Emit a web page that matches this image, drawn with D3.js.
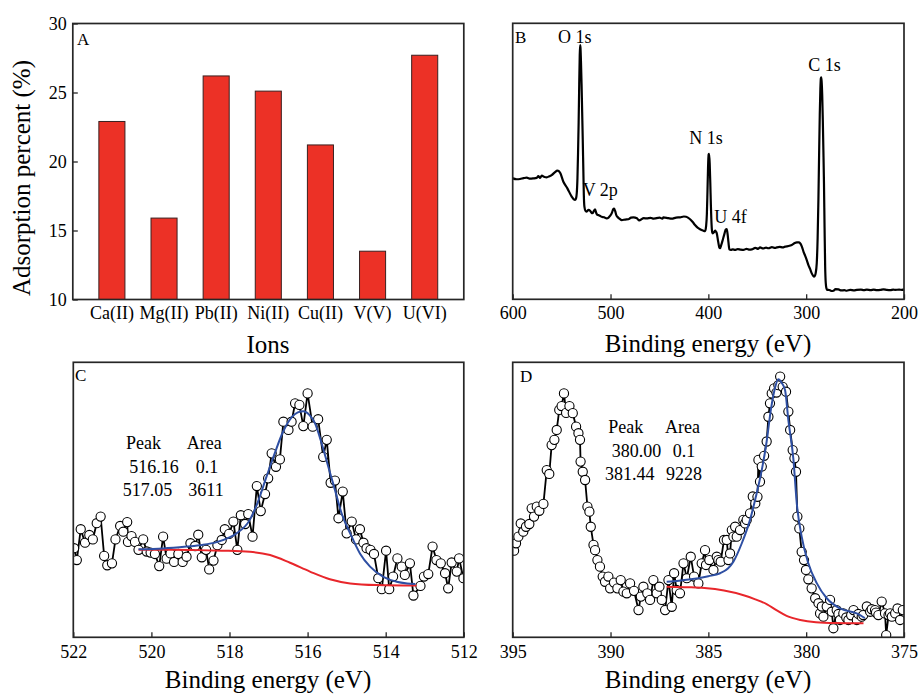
<!DOCTYPE html>
<html>
<head>
<meta charset="utf-8">
<script src="https://cdn.jsdelivr.net/npm/d3@7"></script>
<style>
  body { margin: 0; background: #fff; }
  svg { display: block; }
</style>
</head>
<body>
<svg id="fig" width="919" height="694"></svg>
<script>
// ---- Panel A: adsorption percent per ion ----
const ions = ["Ca(II)", "Mg(II)", "Pb(II)", "Ni(II)", "Cu(II)", "V(V)", "U(VI)"];
const adsorption = [22.9, 15.9, 26.2, 25.1, 21.2, 13.5, 27.7];
const adsTicks = [10, 15, 20, 25, 30];

// ---- Panel B: XPS survey spectrum [binding energy eV, intensity a.u.] ----
const surveyTicks = [600, 500, 400, 300, 200];
const surveyPeaks = ["O 1s", "V 2p", "N 1s", "U 4f", "C 1s"];
const survey = [
  [600,43.8],[596,43.5],[592.5,43.6],[589,43.9],[585.7,44.1],[582,43.7],[578.9,43.8],[575.5,44.0],
  [573.8,44.6],[572,44.0],[570.3,44.8],[567.5,44.3],[565.2,44.2],[562.5,44.6],[560.1,45.0],[557,46.0],
  [554.3,46.6],[551.6,45.9],[548.2,42.6],[544.1,40.2],[539.7,37.2],[537.5,36.2],[536.3,36.0],[535.3,36.5],
  [534.5,38.5],[533.8,44],[533.2,53],[532.6,64],[532.0,78],[531.5,88],[531.1,92.1],[530.7,91],
  [530.2,86],[529.6,78],[529.0,68],[528.4,58],[527.8,47],[527.3,38],[526.7,33.6],[525.5,32.0],
  [524.3,31.8],[522.5,32.4],[520.9,32.1],[519.5,31.4],[518.5,31.2],[517.0,32.0],[515.8,32.6],[514.5,31.2],
  [513.4,30.6],[511.5,30.4],[509.0,29.9],[506.5,29.7],[503.9,29.3],[502.0,29.6],[500.5,30.2],[498.5,31.4],
  [497.2,32.7],[496.4,32.9],[495.3,32.0],[494.0,30.4],[493.0,29.9],[490.8,29.2],[488.5,28.7],[485,28.9],
  [481.7,29.0],[479,29.6],[476.6,29.7],[473,29.4],[471,28.6],[469.8,28.7],[466,29.4],[463.0,29.3],
  [459,29.5],[456,29.2],[454.5,29.3],[450,29.6],[447,29.2],[445.9,29.7],[441,29.4],[437.4,29.2],
  [433,29.6],[428.9,29.7],[425,30.0],[422.8,29.9],[420.5,29.5],[418.7,29.0],[416,28.0],[413.6,26.9],
  [411,26.0],[408.5,25.4],[405.5,24.9],[403.3,24.7],[402.3,26.5],[401.5,31],[400.9,39],[400.3,48],
  [399.7,52.5],[399.2,52.7],[398.6,49],[398.0,42],[397.4,34],[396.7,27],[396.0,24.2],[395.5,23.9],
  [394.2,24.3],[393.1,24.9],[392.2,24.5],[391.4,23.9],[390.0,21.0],[388.8,18.8],[388.0,18.5],[386.8,19.7],
  [385.3,21.5],[383.5,23.8],[382.2,25.3],[381.2,25.4],[380.3,23.5],[379.4,20.5],[378.5,18.1],[377,17.9],
  [375,18.1],[372.7,17.9],[370,18.2],[367,18.0],[364.1,17.9],[361,18.3],[358,18.0],[355.6,18.1],
  [352,18.6],[349,18.3],[347.1,18.8],[344,18.4],[341,18.7],[338.6,18.5],[335,18.9],[332,18.6],
  [330.1,18.8],[327,19.0],[324,18.8],[321.5,19.1],[318,19.3],[314.7,19.7],[312,20.3],[309.6,20.6],
  [307.5,20.6],[306.2,20.3],[304.5,19.2],[302.5,17.0],[301.1,15.8],[299.4,14.2],[297.7,12.4],[296,11.0],
  [294.3,9.4],[292.8,8.5],[291.9,8.2],[291.0,8.6],[290.3,9.5],[289.2,13],[288.3,22],[287.5,36],
  [286.8,52],[286.1,67],[285.5,76],[285.0,80],[284.6,80.4],[284.2,79],[283.6,74],[283.0,65],
  [282.4,54],[281.8,42],[281.2,26],[280.6,12],[280.0,6],[279.3,4],[278.5,3.4],[277.2,3.4],
  [275.6,3.3],[274,3.0],[272.1,3.1],[270,3.7],[267.0,3.6],[264,3.2],[261,3.3],[258.5,3.1],
  [255,3.4],[251,3.2],[248.3,3.4],[244,3.5],[241,3.3],[238.0,3.5],[234,3.3],[231,3.5],
  [227.8,3.3],[224,3.4],[221,3.6],[217.6,3.4],[214,3.3],[211,3.5],[209.1,3.4],[205,3.5],
  [202,3.4],[200,3.6]
];

// ---- Panel C: V 2p high-resolution spectrum ----
const vTicks = [522, 520, 518, 516, 514, 512];
const vPoints = [
  [521.98,32.4],[521.91,28.1],[521.81,39.3],[521.70,34.4],[521.59,37.2],[521.50,35.6],[521.40,41.5],[521.30,43.9],
  [521.21,29.6],[521.13,26.2],[521.01,26.9],[520.92,35.6],[520.80,40.5],[520.72,38.4],[520.62,41.9],[520.60,34.7],
  [520.51,36.8],[520.42,34.7],[520.33,31.8],[520.21,35.6],[520.12,31.2],[520.02,30.8],[519.91,30.3],[519.80,25.9],
  [519.70,36.6],[519.61,28.6],[519.51,30.5],[519.42,27.4],[519.31,30.3],[519.20,27.4],[519.10,29.3],[519.00,34.2],
  [518.88,33.2],[518.80,37.3],[518.71,29.1],[518.60,31.8],[518.52,24.7],[518.41,27.9],[518.31,33.5],[518.20,35.4],
  [518.12,39.3],[518.01,37.6],[517.90,42.1],[517.80,31.8],[517.71,44.4],[517.60,41.2],[517.52,44.8],[517.41,36.6],
  [517.30,55.0],[517.20,45.9],[517.09,52.1],[517.01,57.8],[516.92,66.9],[516.81,62.0],[516.71,64.7],[516.62,78.4],
  [516.49,75.4],[516.41,78.4],[516.32,85.1],[516.21,84.5],[516.11,76.8],[516.00,88.7],[515.87,76.6],[515.73,79.3],
  [515.60,65.6],[515.51,71.8],[515.41,56.2],[515.30,57.0],[515.21,43.3],[515.10,53.0],[515.00,37.8],[514.87,42.1],
  [514.76,35.6],[514.66,39.3],[514.57,34.4],[514.49,32.4],[514.39,31.8],[514.30,30.3],[514.19,21.5],[514.10,17.5],
  [513.99,31.5],[513.91,17.5],[513.81,22.1],[513.70,28.7],[513.59,25.7],[513.51,22.7],[513.38,26.9],[513.29,15.2],
  [513.11,18.7],[513.02,22.1],[512.91,23.0],[512.80,33.0],[512.70,28.1],[512.59,26.9],[512.48,23.3],[512.40,17.8],
  [512.31,27.2],[512.18,23.9],[512.12,28.7],[512.01,21.5]
];
const vFit = [
  [520.33,32.0],[519.7,32.3],[519.1,33.0],[518.7,33.6],[518.33,34.6],[518.0,36.3],[517.82,37.8],[517.48,42.7],
  [517.28,49.0],[517.05,58.5],[516.84,67.0],[516.62,75.0],[516.41,80.0],[516.25,81.8],[516.11,82.2],[515.95,80.8],
  [515.81,77.8],[515.64,70.5],[515.47,62.0],[515.30,53.6],[515.13,45.1],[514.91,37.8],[514.66,30.5],[514.40,25.7],
  [514.06,22.0],[513.72,20.2],[513.45,19.6],[513.24,19.4]
];
const vBackground = [
  [520.33,31.8],[519.5,31.8],[518.8,31.7],[518.2,31.5],[517.48,31.1],[516.96,29.9],[516.45,27.1],[515.94,23.9],
  [515.43,21.1],[514.91,19.6],[514.23,19.0],[513.21,18.8]
];
const vTable = [["Peak", "Area"], ["516.16", "0.1"], ["517.05", "3611"]];

// ---- Panel D: U 4f high-resolution spectrum ----
const uTicks = [395, 390, 385, 380, 375];
const uPoints = [
  [394.93,31.5],[394.83,34.2],[394.71,36.6],[394.59,41.4],[394.46,38.4],[394.32,40.2],[394.15,41.2],[394.03,46.9],
  [393.91,43.9],[393.77,47.5],[393.64,46.0],[393.43,48.5],[393.26,60.8],[393.13,59.4],[393.01,69.9],[392.87,71.8],
  [392.75,75.4],[392.62,82.7],[392.50,84.1],[392.38,88.7],[392.27,81.6],[392.10,84.1],[391.93,81.5],[391.76,76.6],
  [391.64,74.2],[391.56,71.8],[391.53,63.9],[391.42,60.2],[391.30,57.2],[391.18,47.5],[391.08,45.7],[391.01,40.2],
  [390.87,33.6],[390.79,31.7],[390.67,28.1],[390.54,25.7],[390.40,22.1],[390.28,20.2],[390.11,22.1],[390.02,17.8],
  [389.82,19.9],[389.65,17.8],[389.48,20.8],[389.34,16.6],[389.17,16.0],[389.00,19.6],[388.80,16.9],[388.57,9.9],
  [388.45,14.8],[388.32,18.4],[388.12,16.0],[387.98,13.6],[387.81,20.8],[387.64,16.0],[387.50,18.4],[387.38,13.6],
  [387.21,9.9],[387.04,20.8],[386.87,11.1],[386.75,23.3],[386.62,17.2],[386.45,16.0],[386.27,26.9],[386.10,21.5],
  [385.90,29.3],[385.73,22.1],[385.51,19.6],[385.34,26.9],[385.17,31.7],[385.12,26.3],[384.95,28.1],[384.74,24.5],
  [384.57,29.3],[384.49,28.1],[384.37,27.5],[384.20,35.4],[384.06,35.4],[383.97,28.1],[383.89,30.5],[383.80,39.0],
  [383.72,36.6],[383.63,40.2],[383.55,36.6],[383.38,39.0],[383.21,42.7],[383.12,41.4],[383.04,42.7],[382.87,45.1],
  [382.73,51.2],[382.60,48.7],[382.49,51.1],[382.44,64.5],[382.36,56.6],[382.27,62.1],[382.15,66.0],[382.02,71.2],
  [381.93,80.2],[381.85,85.1],[381.76,88.7],[381.64,90.5],[381.52,89.0],[381.42,91.7],[381.33,94.8],[381.20,91.1],
  [381.03,89.3],[380.91,82.1],[380.82,75.4],[380.69,68.1],[380.60,65.1],[380.52,60.2],[380.45,43.9],[380.35,39.6],
  [380.23,31.1],[380.11,28.1],[380.01,24.5],[379.89,21.1],[379.72,17.8],[379.54,14.2],[379.37,12.4],[379.29,8.7],
  [379.20,11.2],[379.12,7.5],[378.95,11.2],[378.78,13.6],[378.69,9.3],[378.61,3.3],[378.44,9.9],[378.35,8.5],
  [378.27,6.3],[378.10,8.7],[377.95,7.2],[377.84,6.3],[377.70,8.0],[377.58,9.9],[377.41,6.3],[377.33,8.5],
  [377.16,7.5],[377.08,8.1],[376.90,11.2],[376.73,9.3],[376.65,10.2],[376.48,9.9],[376.43,9.0],[376.31,8.1],
  [376.14,13.0],[375.97,8.7],[375.91,0.8],[375.79,8.1],[375.71,8.7],[375.62,7.5],[375.45,8.7],[375.33,10.5],
  [375.20,6.3],[375.06,9.9]
];
const uFit = [
  [387.13,20.2],[386.5,20.6],[386.0,21.0],[385.5,21.5],[385.0,22.2],[384.4,23.3],[384.0,25.0],[383.72,27.5],
  [383.29,34.2],[382.87,42.7],[382.53,52.4],[382.27,60.8],[382.02,71.2],[381.8,83.0],[381.6,90.5],[381.42,93.8],
  [381.25,92.5],[381.08,89.9],[380.91,79.0],[380.65,64.5],[380.48,48.7],[380.23,36.6],[379.89,26.9],[379.46,19.7],
  [378.95,14.2],[378.27,10.5],[377.42,8.7],[377.0,7.0]
];
const uBackground = [
  [387.13,18.4],[386.0,18.2],[385.2,17.9],[384.2,17.0],[383.2,15.3],[382.6,13.8],[382.0,12.0],[381.5,9.8],
  [381.0,7.8],[380.3,6.3],[379.5,5.5],[378.5,5.2],[377.07,5.1]
];
const uTable = [["Peak", "Area"], ["380.00", "0.1"], ["381.44", "9228"]];

// ---- figure layout ----
const SERIF = "Liberation Serif, Tinos, Times New Roman, Times, DejaVu Serif, serif";
const svg = d3.select("#fig");
const frames = {
  A: { left: 72.8, right: 463.8, top: 23.5, bottom: 299.5 },
  B: { left: 512.7, right: 904, top: 23.3, bottom: 299.3 },
  C: { left: 73.3, right: 463.8, top: 362.3, bottom: 637.3 },
  D: { left: 512.7, right: 904, top: 362.3, bottom: 637.3 }
};
const FRAME_COLOR = "#262626";
const BAR_RED = "#ec3126";
const FIT_BLUE = "#2e4fa3";
const BG_RED = "#e8262b";
const TICK = 5;

function addText(parent, txt, x, y, size) {
  return parent.append("text").attr("x", x).attr("y", y)
    .style("font-family", SERIF).attr("font-size", size).attr("fill", "#000").text(txt);
}
function drawFrame(f) {
  svg.append("rect")
    .attr("x", f.left).attr("y", f.top)
    .attr("width", f.right - f.left).attr("height", f.bottom - f.top)
    .attr("fill", "none").attr("stroke", FRAME_COLOR).attr("stroke-width", 1.7);
}
function styleAxis(g, size) {
  g.attr("font-family", null).attr("font-size", size);
  g.select(".domain").remove();
  g.selectAll(".tick line").attr("stroke", FRAME_COLOR).attr("stroke-width", 1.3);
  g.selectAll(".tick text").style("font-family", SERIF).attr("font-size", size).attr("fill", "#000");
}
function axisTitle(txt, x, y) {
  addText(svg, txt, x, y, 25).attr("text-anchor", "middle");
}

// ---- Panel A ----
{
  const f = frames.A;
  const x = d3.scaleBand().domain(ions).range([f.left, f.right]).padding(0.5);
  const y = d3.scaleLinear().domain([10, 30]).range([f.bottom, f.top]);

  svg.append("g").selectAll("rect").data(ions).join("rect")
    .attr("x", d => x(d)).attr("width", x.bandwidth())
    .attr("y", (d, i) => y(adsorption[i]))
    .attr("height", (d, i) => y(10) - y(adsorption[i]))
    .attr("fill", BAR_RED).attr("stroke", "#3a2020").attr("stroke-width", 1);

  const gx = svg.append("g").attr("transform", `translate(0,${f.bottom})`)
    .call(d3.axisBottom(x).tickSize(0).tickPadding(7));
  styleAxis(gx, 18);
  const gy = svg.append("g").attr("transform", `translate(${f.left},0)`)
    .call(d3.axisLeft(y).tickValues(adsTicks).tickSizeInner(-TICK).tickSizeOuter(0).tickPadding(6));
  styleAxis(gy, 18);
  drawFrame(f);
  addText(svg, "A", 77, 44.5, 17);
  axisTitle("Ions", 268, 352.7);
  addText(svg, "Adsorption percent (%)", 0, 0, 25)
    .attr("transform", "translate(30,178) rotate(-90)").attr("text-anchor", "middle");
}

// ---- Panel B ----
{
  const f = frames.B;
  const x = d3.scaleLinear().domain([600, 200]).range([f.left, f.right]);
  const y = d3.scaleLinear().domain([0, 100]).range([f.bottom, f.top]);
  const line = d3.line().x(d => x(d[0])).y(d => y(d[1])).curve(d3.curveMonotoneX);
  svg.append("path").datum(survey).attr("d", line)
    .attr("fill", "none").attr("stroke", "#000").attr("stroke-width", 2.2)
    .attr("stroke-linejoin", "round");

  const gx = svg.append("g").attr("transform", `translate(0,${f.bottom})`)
    .call(d3.axisBottom(x).tickValues(surveyTicks).tickSizeInner(-TICK).tickSizeOuter(0).tickPadding(7));
  styleAxis(gx, 18);
  drawFrame(f);
  addText(svg, "B", 515, 42.7, 17);
  axisTitle("Binding energy (eV)", 708, 352);

  const peakLabelPos = [[558, 42.7], [582.7, 196.3], [689.3, 144.3], [714.3, 222.7], [808.3, 71]];
  surveyPeaks.forEach((lbl, i) => addText(svg, lbl, peakLabelPos[i][0], peakLabelPos[i][1], 18));
}

// ---- high-resolution panels (C, D) ----
function hiResPanel(f, domain, ticks, pts, fit, bg, table, tablePos, letter, letterPos, titleX, clipId) {
  const x = d3.scaleLinear().domain(domain).range([f.left, f.right]);
  const y = d3.scaleLinear().domain([0, 100]).range([f.bottom, f.top]);
  svg.append("clipPath").attr("id", clipId).append("rect")
    .attr("x", f.left).attr("y", f.top).attr("width", f.right - f.left).attr("height", f.bottom - f.top);
  const g = svg.append("g").attr("clip-path", `url(#${clipId})`);
  const raw = d3.line().x(d => x(d[0])).y(d => y(d[1]));
  const smooth = d3.line().x(d => x(d[0])).y(d => y(d[1])).curve(d3.curveMonotoneX);

  g.append("path").datum(pts).attr("d", raw)
    .attr("fill", "none").attr("stroke", "#000").attr("stroke-width", 1.8);
  g.selectAll("circle").data(pts).join("circle")
    .attr("cx", d => x(d[0])).attr("cy", d => y(d[1])).attr("r", 4.6)
    .attr("fill", "#fff").attr("stroke", "#000").attr("stroke-width", 1.1);
  g.append("path").datum(bg).attr("d", smooth)
    .attr("fill", "none").attr("stroke", BG_RED).attr("stroke-width", 2);
  g.append("path").datum(fit).attr("d", smooth)
    .attr("fill", "none").attr("stroke", FIT_BLUE).attr("stroke-width", 2);

  const gx = svg.append("g").attr("transform", `translate(0,${f.bottom})`)
    .call(d3.axisBottom(x).tickValues(ticks).tickSizeInner(-TICK).tickSizeOuter(0).tickPadding(7.5));
  styleAxis(gx, 18);
  drawFrame(f);
  addText(svg, letter, letterPos[0], letterPos[1], 17);
  axisTitle("Binding energy (eV)", titleX, 688);

  table.forEach((row, r) => {
    row.forEach((cell, c) => addText(svg, cell, tablePos[r][c], tablePos.base + r * 23.5, 18));
  });
}

const vTablePos = [[126, 186.7], [129.3, 195.7], [122.7, 188.3]];
vTablePos.base = 449.2;
hiResPanel(frames.C, [522, 512], vTicks, vPoints, vFit, vBackground, vTable, vTablePos,
  "C", [75, 380.7], 268, "clipC");

const uTablePos = [[608.3, 665], [611.7, 672.7], [605, 666]];
uTablePos.base = 433.3;
hiResPanel(frames.D, [395, 375], uTicks, uPoints, uFit, uBackground, uTable, uTablePos,
  "D", [520, 382.3], 708, "clipD");
</script>
</body>
</html>
